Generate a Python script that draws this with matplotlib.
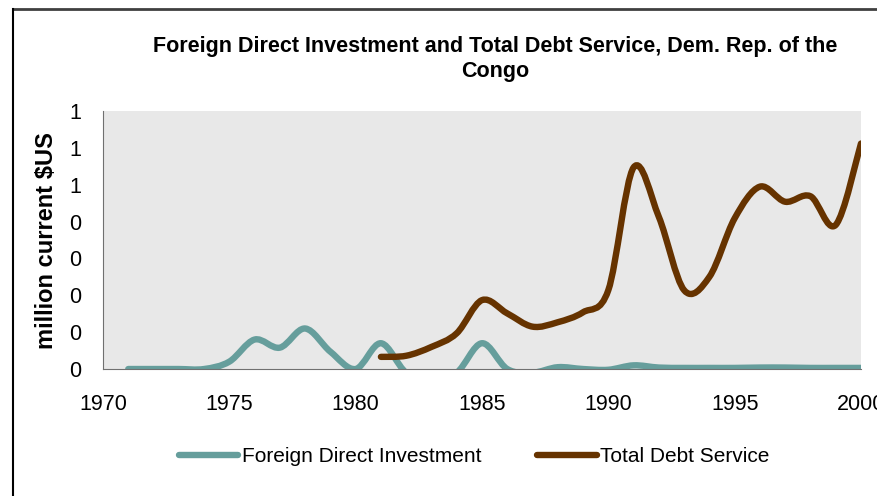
import matplotlib
matplotlib.use("Agg")
import matplotlib.pyplot as plt
import numpy as np
from matplotlib.path import Path
from matplotlib.patches import PathPatch
from matplotlib.lines import Line2D

plt.rcParams['font.family'] = ['Liberation Sans', 'DejaVu Sans']

# data
fdi_years = list(range(1971, 2001))
fdi_values = [0.0, 0.0, 0.0, 0.0, 0.02, 0.08, 0.058, 0.11, 0.047, 0.0,
              0.07, -0.01, -0.03, -0.01, 0.07, 0.0, -0.01, 0.005, 0.0, -0.002,
              0.01, 0.004, 0.003, 0.003, 0.003, 0.004, 0.004, 0.003, 0.003, 0.003]

tds_years = list(range(1981, 2001))
tds_values = [0.033, 0.036, 0.06, 0.097, 0.187, 0.151, 0.115, 0.127, 0.154, 0.214,
              0.547, 0.413, 0.214, 0.25, 0.409, 0.495, 0.454, 0.469, 0.391, 0.612]

y_ticks = [0.0, 0.1, 0.2, 0.3, 0.4, 0.5, 0.6, 0.7]
y_tick_labels = ["0", "0", "0", "0", "0", "1", "1", "1"]
x_ticks = [1970, 1975, 1980, 1985, 1990, 1995, 2000]

fdi_color = "#669e9c"
tds_color = "#663300"


def smooth_path(xs, ys):
    # Excel style smoothed line: cubic bezier segments through the points
    pts = np.column_stack([xs, ys]).astype(float)
    n = len(pts)
    verts = [pts[0]]
    codes = [Path.MOVETO]
    for i in range(n - 1):
        p0 = pts[i - 1] if i > 0 else pts[i]
        p1 = pts[i]
        p2 = pts[i + 1]
        p3 = pts[i + 2] if i + 2 < n else pts[i + 1]
        c1 = p1 + (p2 - p0) / 6.0
        c2 = p2 - (p3 - p1) / 6.0
        verts += [c1, c2, p2]
        codes += [Path.CURVE4] * 3
    return Path(verts, codes)


fig = plt.figure(figsize=(8.78, 4.96), dpi=100)
ax = fig.add_axes([0.1173, 0.256, 0.8633, 0.52])
ax.set_facecolor("#e8e8e8")

for xs, ys, col in [(fdi_years, fdi_values, fdi_color), (tds_years, tds_values, tds_color)]:
    patch = PathPatch(smooth_path(xs, ys), facecolor="none", edgecolor=col,
                      lw=4.6, capstyle="round", joinstyle="round",
                      transform=ax.transData)
    ax.add_patch(patch)

ax.set_xlim(1970, 2000)
ax.set_ylim(0, 0.7)
ax.set_xticks(x_ticks)
ax.set_xticklabels([str(x) for x in x_ticks], fontsize=15.5)
ax.set_yticks(y_ticks)
ax.set_yticklabels(y_tick_labels, fontsize=15.5)
ax.tick_params(axis="y", length=0, pad=16)
ax.tick_params(axis="x", length=0, pad=18)
for s in ["top", "right"]:
    ax.spines[s].set_visible(False)
ax.spines["left"].set_color("#707070")
ax.spines["bottom"].set_color("#707070")
ax.set_ylabel("million current $US", fontsize=17, fontweight="bold", labelpad=8)

fig.text(0.564, 0.881, "Foreign Direct Investment and Total Debt Service, Dem. Rep. of the\nCongo",
         ha="center", va="center", fontsize=15.5, fontweight="bold", linespacing=1.3)

handles = [Line2D([], [], color=fdi_color, lw=4.6, solid_capstyle="round"),
           Line2D([], [], color=tds_color, lw=4.6, solid_capstyle="round")]
fig.legend(handles, ["Foreign Direct Investment", "Total Debt Service"],
           loc="center", bbox_to_anchor=(0.54, 0.08), ncol=2, frameon=False,
           fontsize=15, handlelength=2.85, handletextpad=0.15, columnspacing=2.7)

# outer border remnants
fig.add_artist(Line2D([13 / 878, 1], [1 - 9 / 496, 1 - 9 / 496], color="#404040", lw=2))
fig.add_artist(Line2D([13.5 / 878, 13.5 / 878], [0, 1 - 9 / 496], color="black", lw=1.5))

fig.savefig("out.png", dpi=100)
